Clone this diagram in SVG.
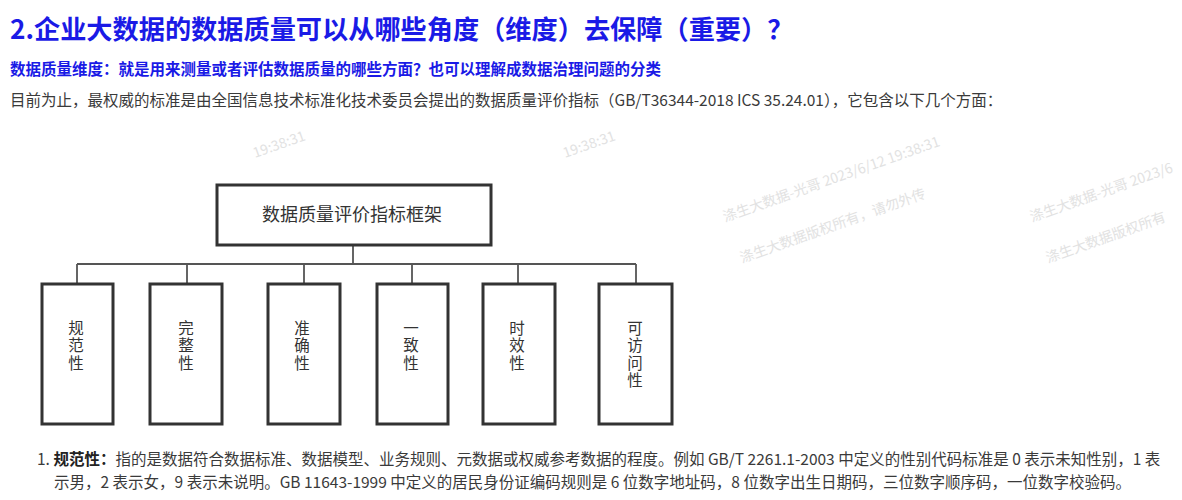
<svg xmlns="http://www.w3.org/2000/svg" width="1182" height="500" viewBox="0 0 1182 500">
<style>
.h1{font-family:"Noto Sans CJK SC","Liberation Sans",sans-serif;font-weight:bold;font-size:26.2px;fill:#1a1ae6}
.h2{font-family:"Noto Sans CJK SC","Liberation Sans",sans-serif;font-weight:bold;font-size:15.5px;fill:#1a1ae6}
.p{font-family:"Noto Sans CJK SC","Liberation Sans",sans-serif;font-size:15.5px;fill:#3a3a3a}
.b{font-weight:bold;fill:#222}
.box{fill:#fff;stroke:#333;stroke-width:3}
.lt{font-family:"Noto Sans CJK SC",serif;font-size:18px;fill:#333;text-anchor:middle}
.vt{font-family:"Noto Sans CJK SC",serif;font-size:15.5px;fill:#333;writing-mode:vertical-rl;text-orientation:upright;letter-spacing:2px}
.wm{font-family:"Noto Sans CJK SC","Liberation Sans",sans-serif;font-size:14px;fill:#e2e2e2}
.conn{stroke:#555;stroke-width:1.8;fill:none}
</style>
<rect width="1182" height="500" fill="#fff"/>
<g id="watermarks">
<text class="wm" transform="translate(725,222) rotate(-19.5)">涤生大数据-光哥 2023/6/12 19:38:31</text>
<text class="wm" transform="translate(742,263) rotate(-19.5)">涤生大数据版权所有，请勿外传</text>
<text class="wm" transform="translate(1032,222) rotate(-19.5)">涤生大数据-光哥 2023/6</text>
<text class="wm" transform="translate(1048,263) rotate(-19.5)">涤生大数据版权所有</text>
<text class="wm" transform="translate(255,158) rotate(-19.5)">19:38:31</text>
<text class="wm" transform="translate(565,158) rotate(-19.5)">19:38:31</text>
</g>
<g id="header">
<text class="h1" x="10" y="39">2.企业大数据的数据质量可以从哪些角度（维度）去保障（重要）？</text>
<text class="h2" x="10" y="75">数据质量维度：就是用来测量或者评估数据质量的哪些方面？也可以理解成数据治理问题的分类</text>
<text class="p" x="10" y="106">目前为止，最权威的标准是由全国信息技术标准化技术委员会提出的数据质量评价指标（GB/T36344-2018 ICS 35.24.01），它包含以下几个方面：</text>
</g>
<g id="connectors">
<path class="conn" d="M353,245 V264 M77,264 H636 M77,264 V284 M187,264 V284 M304,264 V284 M412,264 V284 M518,264 V284 M636,264 V284"/>
</g>
<g id="node-root">
<rect class="box" x="217" y="185" width="274" height="60"/>
<text class="lt" x="352" y="221">数据质量评价指标框架</text>
</g>
<g id="node-1">
<rect class="box" x="42" y="284" width="71" height="140"/>
<text class="vt" x="76" y="320">规范性</text>
</g>
<g id="node-2">
<rect class="box" x="150" y="284" width="72" height="140"/>
<text class="vt" x="186" y="320">完整性</text>
</g>
<g id="node-3">
<rect class="box" x="268" y="284" width="72" height="140"/>
<text class="vt" x="302" y="320">准确性</text>
</g>
<g id="node-4">
<rect class="box" x="377" y="284" width="71" height="140"/>
<text class="vt" x="411" y="320">一致性</text>
</g>
<g id="node-5">
<rect class="box" x="483" y="284" width="72" height="140"/>
<text class="vt" x="517" y="320">时效性</text>
</g>
<g id="node-6">
<rect class="box" x="599" y="284" width="73" height="140"/>
<text class="vt" x="635" y="320">可访问性</text>
</g>
<g id="body">
<text class="p" x="37" y="465">1. <tspan class="b">规范性：</tspan>指的是数据符合数据标准、数据模型、业务规则、元数据或权威参考数据的程度。例如 GB/T 2261.1-2003 中定义的性别代码标准是 0 表示未知性别，1 表</text>
<text class="p" x="54" y="488">示男，2 表示女，9 表示未说明。GB 11643-1999 中定义的居民身份证编码规则是 6 位数字地址码，8 位数字出生日期码，三位数字顺序码，一位数字校验码。</text>
</g>
</svg>
